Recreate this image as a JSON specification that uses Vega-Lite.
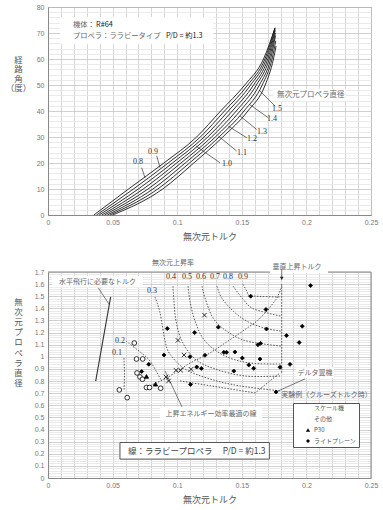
{
 "$schema": "https://vega.github.io/schema/vega-lite/v6.json",
 "padding": {"left": 4, "top": 2, "right": 4, "bottom": 4},
 "background": "white",
 "spacing": 57,
 "bounds": "flush",
 "config": {
  "view": {"stroke": "#888", "strokeWidth": 1},
  "axis": {"ticks": false, "domainColor": "#888", "labelColor": "#777", "labelFont": "Liberation Sans", "labelFontSize": 7, "titleFont": "Noto Sans CJK JP", "titleFontWeight": "normal", "titleColor": "#555", "titleFontSize": 9, "gridWidth": 0.8, "labelOverlap": false, "labelFlush": false},
  "text": {"font": "Noto Sans CJK JP", "fontSize": 7.5, "fill": "#555"}
 },
 "datasets": {
  "topBoxes": [
   {"x": 0.0093, "x2": 0.1277, "y": 76.2, "y2": 65.8},
   {"x": 0.1745, "x2": 0.2305, "y": 48.6, "y2": 43.8}
  ],
  "curves": [
   {"d": "0.8", "o": 1, "x": 0.0355, "y": 0}, {"d": "0.8", "o": 2, "x": 0.0623, "y": 10}, {"d": "0.8", "o": 3, "x": 0.0897, "y": 20}, {"d": "0.8", "o": 4, "x": 0.115, "y": 30}, {"d": "0.8", "o": 5, "x": 0.1336, "y": 40}, {"d": "0.8", "o": 6, "x": 0.1523, "y": 50}, {"d": "0.8", "o": 7, "x": 0.1668, "y": 60}, {"d": "0.8", "o": 8, "x": 0.1757, "y": 72},
   {"d": "0.9", "o": 1, "x": 0.0376, "y": 0}, {"d": "0.9", "o": 2, "x": 0.0661, "y": 10}, {"d": "0.9", "o": 3, "x": 0.093, "y": 20}, {"d": "0.9", "o": 4, "x": 0.1179, "y": 30}, {"d": "0.9", "o": 5, "x": 0.1366, "y": 40}, {"d": "0.9", "o": 6, "x": 0.1546, "y": 50}, {"d": "0.9", "o": 7, "x": 0.1679, "y": 60}, {"d": "0.9", "o": 8, "x": 0.1757, "y": 72},
   {"d": "1.0", "o": 1, "x": 0.0396, "y": 0}, {"d": "1.0", "o": 2, "x": 0.0699, "y": 10}, {"d": "1.0", "o": 3, "x": 0.0963, "y": 20}, {"d": "1.0", "o": 4, "x": 0.1208, "y": 30}, {"d": "1.0", "o": 5, "x": 0.1396, "y": 40}, {"d": "1.0", "o": 6, "x": 0.1568, "y": 50}, {"d": "1.0", "o": 7, "x": 0.169, "y": 60}, {"d": "1.0", "o": 8, "x": 0.1758, "y": 71.5},
   {"d": "1.1", "o": 1, "x": 0.0417, "y": 0}, {"d": "1.1", "o": 2, "x": 0.0737, "y": 10}, {"d": "1.1", "o": 3, "x": 0.0996, "y": 20}, {"d": "1.1", "o": 4, "x": 0.1237, "y": 30}, {"d": "1.1", "o": 5, "x": 0.1426, "y": 40}, {"d": "1.1", "o": 6, "x": 0.1591, "y": 50}, {"d": "1.1", "o": 7, "x": 0.1701, "y": 60}, {"d": "1.1", "o": 8, "x": 0.1759, "y": 71},
   {"d": "1.2", "o": 1, "x": 0.0438, "y": 0}, {"d": "1.2", "o": 2, "x": 0.0774, "y": 10}, {"d": "1.2", "o": 3, "x": 0.1029, "y": 20}, {"d": "1.2", "o": 4, "x": 0.1266, "y": 30}, {"d": "1.2", "o": 5, "x": 0.1457, "y": 40}, {"d": "1.2", "o": 6, "x": 0.1613, "y": 50}, {"d": "1.2", "o": 7, "x": 0.1712, "y": 60}, {"d": "1.2", "o": 8, "x": 0.176, "y": 70},
   {"d": "1.3", "o": 1, "x": 0.0459, "y": 0}, {"d": "1.3", "o": 2, "x": 0.0812, "y": 10}, {"d": "1.3", "o": 3, "x": 0.1062, "y": 20}, {"d": "1.3", "o": 4, "x": 0.1295, "y": 30}, {"d": "1.3", "o": 5, "x": 0.1487, "y": 40}, {"d": "1.3", "o": 6, "x": 0.1636, "y": 50}, {"d": "1.3", "o": 7, "x": 0.1723, "y": 60}, {"d": "1.3", "o": 8, "x": 0.1761, "y": 69},
   {"d": "1.4", "o": 1, "x": 0.0479, "y": 0}, {"d": "1.4", "o": 2, "x": 0.085, "y": 10}, {"d": "1.4", "o": 3, "x": 0.1095, "y": 20}, {"d": "1.4", "o": 4, "x": 0.1324, "y": 30}, {"d": "1.4", "o": 5, "x": 0.1517, "y": 40}, {"d": "1.4", "o": 6, "x": 0.1658, "y": 50}, {"d": "1.4", "o": 7, "x": 0.1734, "y": 60}, {"d": "1.4", "o": 8, "x": 0.1763, "y": 67},
   {"d": "1.5", "o": 1, "x": 0.05, "y": 0}, {"d": "1.5", "o": 2, "x": 0.0888, "y": 10}, {"d": "1.5", "o": 3, "x": 0.1128, "y": 20}, {"d": "1.5", "o": 4, "x": 0.1353, "y": 30}, {"d": "1.5", "o": 5, "x": 0.1547, "y": 40}, {"d": "1.5", "o": 6, "x": 0.1681, "y": 50}, {"d": "1.5", "o": 7, "x": 0.1745, "y": 60}, {"d": "1.5", "o": 8, "x": 0.1765, "y": 65}
  ],
  "topLeaders": [
   {"x": 0.0725, "y": 18.2, "x2": 0.0751, "y2": 14.3},
   {"x": 0.0841, "y": 22.8, "x2": 0.0867, "y2": 18.2},
   {"x": 0.1331, "y": 20.1, "x2": 0.1146, "y2": 26.5},
   {"x": 0.146, "y": 24.6, "x2": 0.1318, "y2": 30.4},
   {"x": 0.1538, "y": 29.7, "x2": 0.1395, "y2": 34.2},
   {"x": 0.1615, "y": 32.9, "x2": 0.1486, "y2": 38.1},
   {"x": 0.1705, "y": 37.4, "x2": 0.1558, "y2": 42.6},
   {"x": 0.1757, "y": 41.9, "x2": 0.1641, "y2": 47.7}
  ],
  "topNums": [
   {"t": "0.8", "x": 0.0697, "y": 20.4},
   {"t": "0.9", "x": 0.0813, "y": 24.2},
   {"t": "1.0", "x": 0.1385, "y": 19.6},
   {"t": "1.1", "x": 0.1502, "y": 23.8},
   {"t": "1.2", "x": 0.1579, "y": 29.2},
   {"t": "1.3", "x": 0.1656, "y": 31.9},
   {"t": "1.4", "x": 0.1734, "y": 36.9},
   {"t": "1.5", "x": 0.1772, "y": 40.8}
  ],
  "topNotes": [
   {"t": "機体：", "x": 0.0193, "y": 73.0},
   {"t": "プロペラ：ララビータイプ", "x": 0.0193, "y": 69.0}
  ],
  "topNotes2": [
   {"t": "無次元プロペラ直径", "x": 0.1772, "y": 46.2}
  ],
  "topNotesDark": [
   {"t": "R#64", "x": 0.0372, "y": 73.0},
   {"t": "P/D = 約1.3", "x": 0.0913, "y": 69.0}
  ],
  "botBoxes": [
   {"x": 0.0031, "x2": 0.0735, "y": 1.574, "y2": 1.665},
   {"x": 0.0867, "x2": 0.1656, "y": 0.472, "y2": 0.587},
   {"x": 0.1718, "x2": 0.2167, "y": 1.692, "y2": 1.794},
   {"x": 0.192, "x2": 0.2214, "y": 0.825, "y2": 0.912}
  ],
  "pdBox": [
   {"x": 0.0557, "x2": 0.1713, "y": 0.156, "y2": 0.293}
  ],
  "frame": [
   {"x": 0, "y": 1.7, "x2": 0.1718, "y2": 1.7},
   {"x": 0.2167, "y": 1.7, "x2": 0.25, "y2": 1.7},
   {"x": 0.25, "y": 0, "x2": 0.25, "y2": 1.7}
  ],
  "botLeaders": [
   {"x": 0.0389, "y": 1.569, "x2": 0.0474, "y2": 1.432},
   {"x": 0.0906, "y": 0.883, "x2": 0.1037, "y2": 0.587},
   {"x": 0.1989, "y": 0.818, "x2": 0.1772, "y2": 0.714},
   {"x": 0.1809, "y": 1.725, "x2": 0.1809, "y2": 1.655}
  ],
  "arrowHead": [
   {"x": 0.1809, "y": 1.648}
  ],
  "hline": [
   {"o": 1, "x": 0.0485, "y": 1.495},
   {"o": 2, "x": 0.0369, "y": 0.8}
  ],
  "contours": [
   {"g": "c1", "o": 1, "x": 0.0588, "y": 0.99}, {"g": "c1", "o": 2, "x": 0.0592, "y": 0.85}, {"g": "c1", "o": 3, "x": 0.0588, "y": 0.718},
   {"g": "c2", "o": 1, "x": 0.0604, "y": 1.13}, {"g": "c2", "o": 2, "x": 0.0751, "y": 1.007}, {"g": "c2", "o": 3, "x": 0.0805, "y": 0.941}, {"g": "c2", "o": 4, "x": 0.088, "y": 0.8},
   {"g": "c3", "o": 1, "x": 0.0828, "y": 1.494}, {"g": "c3", "o": 2, "x": 0.0867, "y": 1.363}, {"g": "c3", "o": 3, "x": 0.0906, "y": 1.13}, {"g": "c3", "o": 4, "x": 0.0944, "y": 1.023}, {"g": "c3", "o": 5, "x": 0.106, "y": 0.9}, {"g": "c3", "o": 6, "x": 0.1254, "y": 0.817}, {"g": "c3", "o": 7, "x": 0.1486, "y": 0.76}, {"g": "c3", "o": 8, "x": 0.1803, "y": 0.718},
   {"g": "c4", "o": 1, "x": 0.0967, "y": 1.583}, {"g": "c4", "o": 2, "x": 0.0975, "y": 1.459}, {"g": "c4", "o": 3, "x": 0.0991, "y": 1.295}, {"g": "c4", "o": 4, "x": 0.1037, "y": 1.13}, {"g": "c4", "o": 5, "x": 0.1138, "y": 0.982}, {"g": "c4", "o": 6, "x": 0.1293, "y": 0.9}, {"g": "c4", "o": 7, "x": 0.1525, "y": 0.842}, {"g": "c4", "o": 8, "x": 0.1803, "y": 0.842},
   {"g": "c5", "o": 1, "x": 0.1084, "y": 1.583}, {"g": "c5", "o": 2, "x": 0.1099, "y": 1.459}, {"g": "c5", "o": 3, "x": 0.1138, "y": 1.295}, {"g": "c5", "o": 4, "x": 0.1215, "y": 1.13}, {"g": "c5", "o": 5, "x": 0.137, "y": 1.007}, {"g": "c5", "o": 6, "x": 0.1563, "y": 0.949}, {"g": "c5", "o": 7, "x": 0.1803, "y": 0.941},
   {"g": "c6", "o": 1, "x": 0.1192, "y": 1.583}, {"g": "c6", "o": 2, "x": 0.1215, "y": 1.486}, {"g": "c6", "o": 3, "x": 0.1277, "y": 1.322}, {"g": "c6", "o": 4, "x": 0.1383, "y": 1.212}, {"g": "c6", "o": 5, "x": 0.1538, "y": 1.13}, {"g": "c6", "o": 6, "x": 0.1803, "y": 1.089},
   {"g": "c7", "o": 1, "x": 0.1308, "y": 1.583}, {"g": "c7", "o": 2, "x": 0.1344, "y": 1.486}, {"g": "c7", "o": 3, "x": 0.1434, "y": 1.377}, {"g": "c7", "o": 4, "x": 0.1538, "y": 1.295}, {"g": "c7", "o": 5, "x": 0.1666, "y": 1.24}, {"g": "c7", "o": 6, "x": 0.1803, "y": 1.212},
   {"g": "c8", "o": 1, "x": 0.1432, "y": 1.583}, {"g": "c8", "o": 2, "x": 0.1509, "y": 1.476}, {"g": "c8", "o": 3, "x": 0.1576, "y": 1.404}, {"g": "c8", "o": 4, "x": 0.1693, "y": 1.363}, {"g": "c8", "o": 5, "x": 0.1803, "y": 1.336},
   {"g": "c9", "o": 1, "x": 0.1509, "y": 1.599}, {"g": "c9", "o": 2, "x": 0.154, "y": 1.542}, {"g": "c9", "o": 3, "x": 0.1571, "y": 1.504}, {"g": "c9", "o": 4, "x": 0.1803, "y": 1.494}
  ],
  "straightDots": [
   {"g": "v", "o": 1, "x": 0.1809, "y": 1.6}, {"g": "v", "o": 2, "x": 0.1809, "y": 0.868},
   {"g": "opt", "o": 1, "x": 0.0789, "y": 0.76}, {"g": "opt", "o": 2, "x": 0.0921, "y": 0.826}, {"g": "opt", "o": 3, "x": 0.1099, "y": 0.949}, {"g": "opt", "o": 4, "x": 0.1254, "y": 1.031}, {"g": "opt", "o": 5, "x": 0.1486, "y": 1.196}, {"g": "opt", "o": 6, "x": 0.1618, "y": 1.295}, {"g": "opt", "o": 7, "x": 0.1695, "y": 1.377}, {"g": "opt", "o": 8, "x": 0.1772, "y": 1.484}, {"g": "opt", "o": 9, "x": 0.1811, "y": 1.583},
   {"g": "delta", "o": 1, "x": 0.1022, "y": 0.801}, {"g": "delta", "o": 2, "x": 0.1602, "y": 0.702}, {"g": "delta", "o": 3, "x": 0.1796, "y": 0.868}
  ],
  "botNums": [
   {"t": "0.1", "x": 0.0534, "y": 1.031},
   {"t": "0.2", "x": 0.0557, "y": 1.134},
   {"t": "0.3", "x": 0.0805, "y": 1.542},
   {"t": "0.4", "x": 0.0952, "y": 1.657},
   {"t": "0.5", "x": 0.1076, "y": 1.657},
   {"t": "0.6", "x": 0.1184, "y": 1.657},
   {"t": "0.7", "x": 0.1293, "y": 1.657},
   {"t": "0.8", "x": 0.1393, "y": 1.657},
   {"t": "0.9", "x": 0.1509, "y": 1.657}
  ],
  "botNotes": [
   {"t": "無次元上昇率", "x": 0.0967, "y": 1.772},
   {"t": "垂直上昇トルク", "x": 0.1927, "y": 1.742},
   {"t": "水平飛行に必要なトルク", "x": 0.0383, "y": 1.618},
   {"t": "上昇エネルギー効率最適の線", "x": 0.1262, "y": 0.529},
   {"t": "デルタ翼機", "x": 0.2067, "y": 0.868},
   {"t": "実験例（クルーズトルク時）", "x": 0.2155, "y": 0.683}
  ],
  "pdText": [
   {"t": "線：ララビープロペラ　 P/D = 約1.3", "x": 0.0619, "y": 0.225}
  ],
  "pts": [
   {"s": "スケール機", "x": 0.0668, "y": 1.114}, {"s": "スケール機", "x": 0.0685, "y": 0.982}, {"s": "スケール機", "x": 0.0733, "y": 0.982}, {"s": "スケール機", "x": 0.0689, "y": 0.867}, {"s": "スケール機", "x": 0.0712, "y": 0.834}, {"s": "スケール機", "x": 0.0731, "y": 0.815}, {"s": "スケール機", "x": 0.0762, "y": 0.747}, {"s": "スケール機", "x": 0.0786, "y": 0.747}, {"s": "スケール機", "x": 0.0872, "y": 0.741}, {"s": "スケール機", "x": 0.0552, "y": 0.727}, {"s": "スケール機", "x": 0.0613, "y": 0.663},
   {"s": "その他", "x": 0.1211, "y": 1.344}, {"s": "その他", "x": 0.1006, "y": 1.136}, {"s": "その他", "x": 0.1053, "y": 1.015}, {"s": "その他", "x": 0.0991, "y": 0.889}, {"s": "その他", "x": 0.1027, "y": 0.889}, {"s": "その他", "x": 0.1107, "y": 0.897}, {"s": "その他", "x": 0.0913, "y": 0.834}, {"s": "その他", "x": 0.0933, "y": 0.801},
   {"s": "P30", "x": 0.0762, "y": 0.838}, {"s": "P30", "x": 0.0832, "y": 0.774},
   {"s": "ライトプレーン", "x": 0.2032, "y": 1.588}, {"s": "ライトプレーン", "x": 0.1569, "y": 1.5}, {"s": "ライトプレーン", "x": 0.1687, "y": 1.391}, {"s": "ライトプレーン", "x": 0.1318, "y": 1.245}, {"s": "ライトプレーン", "x": 0.1691, "y": 1.23}, {"s": "ライトプレーン", "x": 0.1968, "y": 1.253}, {"s": "ライトプレーン", "x": 0.0923, "y": 1.233}, {"s": "ライトプレーン", "x": 0.1135, "y": 1.2}, {"s": "ライトプレーン", "x": 0.1846, "y": 1.175}, {"s": "ライトプレーン", "x": 0.1625, "y": 1.099}, {"s": "ライトプレーン", "x": 0.1645, "y": 1.111}, {"s": "ライトプレーン", "x": 0.1944, "y": 1.118}, {"s": "ライトプレーン", "x": 0.1361, "y": 1.037}, {"s": "ライトプレーン", "x": 0.1382, "y": 1.037}, {"s": "ライトプレーン", "x": 0.1447, "y": 1.04}, {"s": "ライトプレーン", "x": 0.0898, "y": 1.015}, {"s": "ライトプレーン", "x": 0.1099, "y": 1.0}, {"s": "ライトプレーン", "x": 0.1215, "y": 1.013}, {"s": "ライトプレーン", "x": 0.1504, "y": 0.99}, {"s": "ライトプレーン", "x": 0.1641, "y": 0.982}, {"s": "ライトプレーン", "x": 0.078, "y": 0.938}, {"s": "ライトプレーン", "x": 0.1151, "y": 0.916}, {"s": "ライトプレーン", "x": 0.1187, "y": 0.904}, {"s": "ライトプレーン", "x": 0.1438, "y": 0.883}, {"s": "ライトプレーン", "x": 0.1554, "y": 0.933}, {"s": "ライトプレーン", "x": 0.1592, "y": 0.905}, {"s": "ライトプレーン", "x": 0.1796, "y": 0.914}, {"s": "ライトプレーン", "x": 0.1873, "y": 0.938}, {"s": "ライトプレーン", "x": 0.1103, "y": 0.772}, {"s": "ライトプレーン", "x": 0.1765, "y": 0.71}, {"s": "ライトプレーン", "x": 0.0725, "y": 0.879}
  ]
 },
 "vconcat": [
  {
   "width": 323, "height": 208,
   "encoding": {
    "x": {"field": "x", "type": "quantitative", "scale": {"domain": [0, 0.25], "nice": false, "zero": false},
     "axis": {"values": [0,0.01,0.02,0.03,0.04,0.05,0.06,0.07,0.08,0.09,0.1,0.11,0.12,0.13,0.14,0.15,0.16,0.17,0.18,0.19,0.2,0.21,0.22,0.23,0.24,0.25],
      "labelExpr": "round(datum.value*100) % 5 === 0 ? format(datum.value, '~g') : ''",
      "gridColor": "#cccccc", "labelPadding": 3, "title": "無次元トルク", "titleY": 21, "titleBaseline": "middle"}},
    "y": {"field": "y", "type": "quantitative", "scale": {"domain": [0, 80], "nice": false},
     "axis": {"values": [0,2,4,6,8,10,12,14,16,18,20,22,24,26,28,30,32,34,36,38,40,42,44,46,48,50,52,54,56,58,60,62,64,66,68,70,72,74,76,78,80],
      "labelExpr": "datum.value % 10 === 0 ? datum.label : ''",
      "gridColor": {"condition": {"test": "datum.value % 10 === 0", "value": "#c4c4c4"}, "value": "#e4e4e4"},
      "labelPadding": 4,
      "title": ["経", "路", "角", "", "（度）"], "titleFontSize": 8.5, "titleAngle": 0, "titleX": -30, "titleY": 48, "titleBaseline": "top", "titleAlign": "center", "titleLineHeight": 9.5}}
   },
   "layer": [
    {"data": {"name": "topBoxes"}, "mark": {"type": "rect", "fill": "white"}, "encoding": {"x2": {"field": "x2"}, "y2": {"field": "y2"}}},
    {"data": {"name": "curves"}, "mark": {"type": "line", "interpolate": "monotone", "stroke": "#1a1a1a", "strokeWidth": 0.9}, "encoding": {"detail": {"field": "d"}, "order": {"field": "o"}}},
    {"data": {"name": "topLeaders"}, "mark": {"type": "rule", "stroke": "#333", "strokeWidth": 0.7}, "encoding": {"x2": {"field": "x2"}, "y2": {"field": "y2"}}},
    {"data": {"name": "topNums"}, "mark": {"type": "text", "font": "Liberation Serif", "fontSize": 8, "fill": "#333"}, "encoding": {"text": {"field": "t"}}},
    {"data": {"name": "topNotes"}, "mark": {"type": "text", "align": "left", "fontSize": 7.3, "fill": "#666"}, "encoding": {"text": {"field": "t"}}},
    {"data": {"name": "topNotes2"}, "mark": {"type": "text", "align": "left", "fontSize": 7.5, "fill": "#666"}, "encoding": {"text": {"field": "t"}}},
    {"data": {"name": "topNotesDark"}, "mark": {"type": "text", "align": "left", "fontSize": 7.3, "fill": "#222"}, "encoding": {"text": {"field": "t"}}}
   ]
  },
  {
   "width": 323, "height": 206,
   "view": {"stroke": null},
   "encoding": {
    "x": {"field": "x", "type": "quantitative", "scale": {"domain": [0, 0.25], "nice": false, "zero": false},
     "axis": {"values": [0,0.01,0.02,0.03,0.04,0.05,0.06,0.07,0.08,0.09,0.1,0.11,0.12,0.13,0.14,0.15,0.16,0.17,0.18,0.19,0.2,0.21,0.22,0.23,0.24,0.25],
      "labelExpr": "round(datum.value*100) % 5 === 0 ? format(datum.value, '~g') : ''",
      "gridColor": "#cccccc", "labelPadding": 3, "title": "無次元トルク", "titleY": 21, "titleBaseline": "middle"}},
    "y": {"field": "y", "type": "quantitative", "scale": {"domain": [0, 1.7], "nice": false},
     "axis": {"values": [0,0.02,0.04,0.06,0.08,0.1,0.12,0.14,0.16,0.18,0.2,0.22,0.24,0.26,0.28,0.3,0.32,0.34,0.36,0.38,0.4,0.42,0.44,0.46,0.48,0.5,0.52,0.54,0.56,0.58,0.6,0.62,0.64,0.66,0.68,0.7,0.72,0.74,0.76,0.78,0.8,0.82,0.84,0.86,0.88,0.9,0.92,0.94,0.96,0.98,1,1.02,1.04,1.06,1.08,1.1,1.12,1.14,1.16,1.18,1.2,1.22,1.24,1.26,1.28,1.3,1.32,1.34,1.36,1.38,1.4,1.42,1.44,1.46,1.48,1.5,1.52,1.54,1.56,1.58,1.6,1.62,1.64,1.66,1.68,1.7],
      "labelExpr": "round(datum.value*100) % 10 === 0 ? format(datum.value, '~g') : ''",
      "gridColor": {"condition": {"test": "round(datum.value*100) % 10 === 0", "value": "#c4c4c4"}, "value": "#e4e4e4"},
      "labelPadding": 4,
      "title": ["無", "次", "元", "プ", "ロ", "ペ", "ラ", "直", "径"], "titleFontSize": 8.5, "titleAngle": 0, "titleX": -30, "titleY": 25, "titleBaseline": "top", "titleAlign": "center", "titleLineHeight": 10.2}}
   },
   "layer": [
    {"data": {"name": "frame"}, "mark": {"type": "rule", "stroke": "#888", "strokeWidth": 1}, "encoding": {"x2": {"field": "x2"}, "y2": {"field": "y2"}}},
    {"data": {"name": "botBoxes"}, "mark": {"type": "rect", "fill": "white"}, "encoding": {"x2": {"field": "x2"}, "y2": {"field": "y2"}}},
    {"data": {"name": "pdBox"}, "mark": {"type": "rect", "fill": "white", "stroke": "#555", "strokeWidth": 1}, "encoding": {"x2": {"field": "x2"}, "y2": {"field": "y2"}}},
    {"data": {"name": "contours"}, "mark": {"type": "line", "interpolate": "cardinal", "stroke": "#444", "strokeWidth": 0.9, "strokeDash": [1.5, 1.5]}, "encoding": {"detail": {"field": "g"}, "order": {"field": "o"}}},
    {"data": {"name": "straightDots"}, "mark": {"type": "line", "stroke": "#444", "strokeWidth": 0.9, "strokeDash": [1.5, 1.5]}, "encoding": {"detail": {"field": "g"}, "order": {"field": "o"}}},
    {"data": {"name": "hline"}, "mark": {"type": "line", "stroke": "#333", "strokeWidth": 1.1}, "encoding": {"order": {"field": "o"}}},
    {"data": {"name": "botLeaders"}, "mark": {"type": "rule", "stroke": "#444", "strokeWidth": 0.7}, "encoding": {"x2": {"field": "x2"}, "y2": {"field": "y2"}}},
    {"data": {"name": "arrowHead"}, "mark": {"type": "point", "shape": "triangle-down", "filled": true, "fill": "#222", "size": 14, "opacity": 1}, "encoding": {}},
    {"data": {"name": "botNums"}, "mark": {"type": "text", "font": "Liberation Serif", "fontSize": 8, "fill": "#333"}, "encoding": {"text": {"field": "t"}}},
    {"data": {"name": "botNotes"}, "mark": {"type": "text", "fontSize": 7, "fill": "#666"}, "encoding": {"text": {"field": "t"}}},
    {"data": {"name": "pdText"}, "mark": {"type": "text", "align": "left", "fontSize": 8.5, "fill": "#444"}, "encoding": {"text": {"field": "t"}}},
    {"data": {"name": "pts"}, "mark": {"type": "point", "filled": true, "stroke": "#000", "strokeWidth": 0.8, "opacity": 1},
     "encoding": {
      "shape": {"field": "s", "type": "nominal", "scale": {"domain": ["スケール機", "その他", "P30", "ライトプレーン"], "range": ["circle", "M-1,-1L1,1M1,-1L-1,1", "triangle-up", "diamond"]},
       "legend": {"orient": "none", "legendX": 245, "legendY": 396, "title": null, "strokeColor": "#555", "fillColor": "white", "padding": 2, "rowPadding": 3, "labelFontSize": 6, "labelFont": "Noto Sans CJK JP", "labelColor": "#555", "symbolOffset": 10, "labelOffset": 3, "symbolStrokeColor": "#000", "symbolStrokeWidth": 0.8}},
      "fill": {"field": "s", "type": "nominal", "scale": {"domain": ["スケール機", "その他", "P30", "ライトプレーン"], "range": ["white", "white", "#000", "#000"]},
       "legend": {"orient": "none", "legendX": 245, "legendY": 396, "title": null, "strokeColor": "#555", "fillColor": "white", "padding": 2, "rowPadding": 3, "labelFontSize": 6, "labelFont": "Noto Sans CJK JP", "labelColor": "#555", "symbolOffset": 10, "labelOffset": 3, "symbolStrokeColor": "#000", "symbolStrokeWidth": 0.8}},
      "size": {"field": "s", "type": "nominal", "scale": {"domain": ["スケール機", "その他", "P30", "ライトプレーン"], "range": [22, 16, 14, 14]},
       "legend": {"orient": "none", "legendX": 245, "legendY": 396, "title": null, "strokeColor": "#555", "fillColor": "white", "padding": 2, "rowPadding": 3, "labelFontSize": 6, "labelFont": "Noto Sans CJK JP", "labelColor": "#555", "symbolOffset": 10, "labelOffset": 3, "symbolStrokeColor": "#000", "symbolStrokeWidth": 0.8}}
     }}
   ]
  }
 ]
}
